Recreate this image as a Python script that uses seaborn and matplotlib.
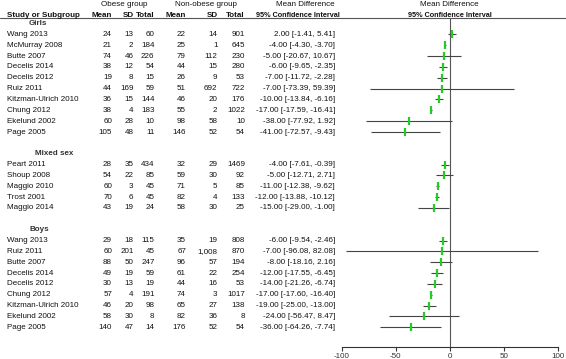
import numpy as np
import pandas as pd
import seaborn as sns
import matplotlib.pyplot as plt

# --- data ---
girls_studies = ["Wang 2013", "McMurray 2008", "Butte 2007", "Decelis 2014", "Decelis 2012",
                 "Ruiz 2011", "Kitzman-Ulrich 2010", "Chung 2012", "Ekelund 2002", "Page 2005"]
girls_ob_mean = [24, 21, 74, 38, 19, 44, 36, 38, 60, 105]
girls_ob_sd = [13, 2, 46, 12, 8, 169, 15, 4, 28, 48]
girls_ob_n = [60, 184, 226, 54, 15, 59, 144, 183, 10, 11]
girls_nob_mean = [22, 25, 79, 44, 26, 51, 46, 55, 98, 146]
girls_nob_sd = [14, 1, 112, 15, 9, 692, 20, 2, 58, 52]
girls_nob_n = [901, 645, 230, 280, 53, 722, 176, 1022, 10, 54]
girls_md = [2.00, -4.00, -5.00, -6.00, -7.00, -7.00, -10.00, -17.00, -38.00, -41.00]
girls_lo = [-1.41, -4.30, -20.67, -9.65, -11.72, -73.39, -13.84, -17.59, -77.92, -72.57]
girls_hi = [5.41, -3.70, 10.67, -2.35, -2.28, 59.39, -6.16, -16.41, 1.92, -9.43]

mixed_studies = ["Peart 2011", "Shoup 2008", "Maggio 2010", "Trost 2001", "Maggio 2014"]
mixed_ob_mean = [28, 54, 60, 70, 43]
mixed_ob_sd = [35, 22, 3, 6, 19]
mixed_ob_n = [434, 85, 45, 45, 24]
mixed_nob_mean = [32, 59, 71, 82, 58]
mixed_nob_sd = [29, 30, 5, 4, 30]
mixed_nob_n = [1469, 92, 85, 133, 25]
mixed_md = [-4.00, -5.00, -11.00, -12.00, -15.00]
mixed_lo = [-7.61, -12.71, -12.38, -13.88, -29.00]
mixed_hi = [-0.39, 2.71, -9.62, -10.12, -1.00]

boys_studies = ["Wang 2013", "Ruiz 2011", "Butte 2007", "Decelis 2014", "Decelis 2012",
                "Chung 2012", "Kitzman-Ulrich 2010", "Ekelund 2002", "Page 2005"]
boys_ob_mean = [29, 60, 88, 49, 30, 57, 46, 58, 140]
boys_ob_sd = [18, 201, 50, 19, 13, 4, 20, 30, 47]
boys_ob_n = [115, 45, 247, 59, 19, 191, 98, 8, 14]
boys_nob_mean = [35, 67, 96, 61, 44, 74, 65, 82, 176]
boys_nob_sd = [19, 1008, 57, 22, 16, 3, 27, 36, 52]
boys_nob_n = [808, 870, 194, 254, 53, 1017, 138, 8, 54]
boys_md = [-6.00, -7.00, -8.00, -12.00, -14.00, -17.00, -19.00, -24.00, -36.00]
boys_lo = [-9.54, -96.08, -18.16, -17.55, -21.26, -17.60, -25.00, -56.47, -64.26]
boys_hi = [-2.46, 82.08, 2.16, -6.45, -6.74, -16.40, -13.00, 8.47, -7.74]

x_ticks = [-100, -50, 0, 50, 100]

# --- build one table, one row per line of the plot ---
groups = [
    ("Girls", girls_studies, girls_ob_mean, girls_ob_sd, girls_ob_n,
     girls_nob_mean, girls_nob_sd, girls_nob_n, girls_md, girls_lo, girls_hi),
    ("Mixed sex", mixed_studies, mixed_ob_mean, mixed_ob_sd, mixed_ob_n,
     mixed_nob_mean, mixed_nob_sd, mixed_nob_n, mixed_md, mixed_lo, mixed_hi),
    ("Boys", boys_studies, boys_ob_mean, boys_ob_sd, boys_ob_n,
     boys_nob_mean, boys_nob_sd, boys_nob_n, boys_md, boys_lo, boys_hi),
]

records = []
headers = []
row = 0
for g in groups:
    name, studies = g[0], g[1]
    headers.append((name, row))
    row += 1
    for i, s in enumerate(studies):
        records.append(dict(group=name, study=s, row=row,
                            ob_mean=g[2][i], ob_sd=g[3][i], ob_n=g[4][i],
                            nob_mean=g[5][i], nob_sd=g[6][i], nob_n=g[7][i],
                            md=g[8][i], lo=g[9][i], hi=g[10][i]))
        row += 1
    row += 1
df = pd.DataFrame(records)

# pixel <-> row mapping (rows are ~10.85 px apart)
ROW0, ROWH, H, W = 23.5, 10.85, 359, 566
def prow(py):
    return (py - ROW0) / ROWH

sns.set_style("white")
plt.rcParams["font.family"] = ["Liberation Sans", "DejaVu Sans"]
FS = 5.8
TXT = "#111111"

fig = plt.figure(figsize=(W / 100, H / 100), dpi=100)

# table axes: x in pixels, y in rows
tab = fig.add_axes([0, 0, 1, 1])
tab.set_xlim(0, W)
tab.set_ylim(prow(H), prow(0))
tab.axis("off")

# forest axes
x_left, x_right = 341.7, 557.7
ax = fig.add_axes([x_left / W, 0, (x_right - x_left) / W, 1])
ax.set_xlim(-100, 100)
ax.set_ylim(prow(H), prow(0))

# header texts
tab.text(124, prow(4), "Obese group", ha="center", va="center", fontsize=FS, color=TXT)
tab.text(206, prow(4), "Non-obese group", ha="center", va="center", fontsize=FS, color=TXT)
tab.text(335, prow(4), "Mean Difference", ha="right", va="center", fontsize=FS, color=TXT)
tab.text(7, prow(15), "Study or Subgroup", ha="left", va="center", fontsize=FS,
         fontweight="bold", color=TXT)
col_x = [112, 133.5, 154.5, 186, 217.5, 245]
for cx, lab in zip(col_x, ["Mean", "SD", "Total", "Mean", "SD", "Total"]):
    tab.text(cx, prow(15), lab, ha="right", va="center", fontsize=FS,
             fontweight="bold", color=TXT)
tab.text(340, prow(15), "95% Confidence Interval", ha="right", va="center",
         fontsize=FS - 0.6, fontweight="bold", color=TXT)
tab.axhline(prow(18), color="#555555", lw=0.8)

# subgroup headings
head_x = {"Girls": 29, "Mixed sex": 35, "Boys": 29}
for name, r in headers:
    tab.text(head_x[name], r, name, ha="left", va="center", fontsize=FS,
             fontweight="bold", color="#333333")

# study rows (SD columns use a thousands separator, totals do not)
cols = ["ob_mean", "ob_sd", "ob_n", "nob_mean", "nob_sd", "nob_n"]
fmts = ["{}", "{:,}", "{}", "{}", "{:,}", "{}"]
for _, rec in df.iterrows():
    tab.text(7, rec["row"], rec["study"], ha="left", va="center", fontsize=FS, color=TXT)
    for cx, c, f in zip(col_x, cols, fmts):
        tab.text(cx, rec["row"], f.format(rec[c]), ha="right", va="center",
                 fontsize=FS, color=TXT)
    tab.text(335, rec["row"], f"{rec['md']:.2f} [{rec['lo']:.2f}, {rec['hi']:.2f}]",
             ha="right", va="center", fontsize=FS, color=TXT)

# forest plot
axis_row = prow(347)
ax.vlines(0, prow(18), axis_row, color="#555555", lw=0.8)
ax.hlines(df["row"], df["lo"], df["hi"], color="#444444", lw=0.8)
sns.scatterplot(data=df, x="md", y="row", marker="|", s=34, linewidth=1.6,
                color="#22cc22", ax=ax, legend=False, zorder=3)

ax.text(0, prow(4), "Mean Difference", ha="center", va="center", fontsize=FS, color=TXT)
ax.text(0, prow(15), "95% Confidence Interval", ha="center", va="center",
        fontsize=FS - 0.6, fontweight="bold", color=TXT)

ax.set_xlabel("")
ax.set_ylabel("")
ax.set_yticks([])
ax.set_xticks(x_ticks)
ax.set_xticklabels([str(t) for t in x_ticks])
for s in ["top", "right", "left"]:
    ax.spines[s].set_visible(False)
ax.spines["bottom"].set_position(("data", axis_row))
ax.spines["bottom"].set_bounds(-100, 100)
ax.spines["bottom"].set_color("#333333")
ax.spines["bottom"].set_linewidth(0.8)
ax.tick_params(axis="x", direction="out", length=3, width=0.8, pad=1.5,
               labelsize=FS, colors="#333333", bottom=True)
ax.patch.set_alpha(0)

fig.savefig("out.png", dpi=100)
